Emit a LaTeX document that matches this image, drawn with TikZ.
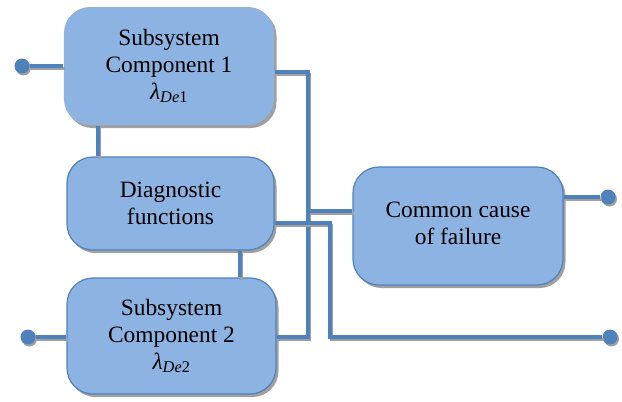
\documentclass[tikz,border=0pt]{standalone}
\usepackage{fontspec}
\setmainfont{Liberation Serif}
\usetikzlibrary{shadows}
\definecolor{boxfill}{HTML}{8DB3E2}
\definecolor{boxline}{HTML}{4F81BD}
\definecolor{wirec}{HTML}{4F81BD}
\definecolor{shade}{HTML}{A0A0A0}
\begin{document}
\begin{tikzpicture}[x=1bp,y=-1bp,
  blk/.style={rectangle, rounded corners=26bp, fill=boxfill, draw=boxline, line width=1.2bp,
    align=center, inner sep=0pt, font=\fontsize{23.4bp}{27bp}\selectfont,
    drop shadow={shadow xshift=2.5bp, shadow yshift=-3bp, fill=shade, opacity=1}},
  conn/.style={draw=wirec, line width=3.8bp,
    preaction={draw=shade, line width=3.8bp, transform canvas={xshift=1.5bp,yshift=-2.5bp}}},
  tip/.style={circle, fill=wirec, inner sep=0pt, minimum size=15bp,
    drop shadow={shadow xshift=1.5bp, shadow yshift=-2bp, fill=shade, opacity=1}}]
\useasboundingbox (0,0) rectangle (622,401);

% boxes
\node[blk, draw=none, minimum width=210bp, minimum height=118bp] (b1) at (169,66)
  {Subsystem\\Component 1\\{\itshape λ}\textsubscript{\itshape De\upshape 1}};
\node[blk, minimum width=207bp, minimum height=93bp] (dg) at (170.5,203.5)
  {Diagnostic\\functions};
\node[blk, minimum width=209bp, minimum height=116bp] (b2) at (171.5,336)
  {Subsystem\\Component 2\\{\itshape λ}\textsubscript{\itshape De\upshape 2}};
\node[blk, minimum width=210bp, minimum height=118bp] (cc) at (458,226)
  {\raisebox{7bp}{\begin{tabular}{@{}c@{}}Common cause\\of failure\end{tabular}}};

% terminal dots
\node[tip] (p1) at (22,66) {};
\node[tip] (p2) at (28,337) {};
\node[tip] (p3) at (608,197) {};
\node[tip] (p4) at (610,337) {};

% junction coordinates
\coordinate (j1) at (308,72);
\coordinate (j2) at (308,337);
\coordinate (j3) at (308,211);
\coordinate (k1) at (330,223);
\coordinate (k2) at (330,337);
\coordinate (v1) at (98,140);
\coordinate (v2) at (240,264);

% connectors
\draw[conn] (p1) -- (b1.west);
\draw[conn] (p2) -- (b2.west |- p2);
\draw[conn] (b1.east |- j1) -- (j1) -- (j2) -- (b2.east |- j2);
\draw[conn] (j3) -- (cc.west |- j3);
\draw[conn] (dg.east |- k1) -- (k1) -- (k2) -- (p4);
\draw[conn] (cc.east |- p3) -- (p3);
\draw[conn] (b1.south -| v1) -- (dg.north -| v1);
\draw[conn] (dg.south -| v2) -- (b2.north -| v2);
\end{tikzpicture}
\end{document}
